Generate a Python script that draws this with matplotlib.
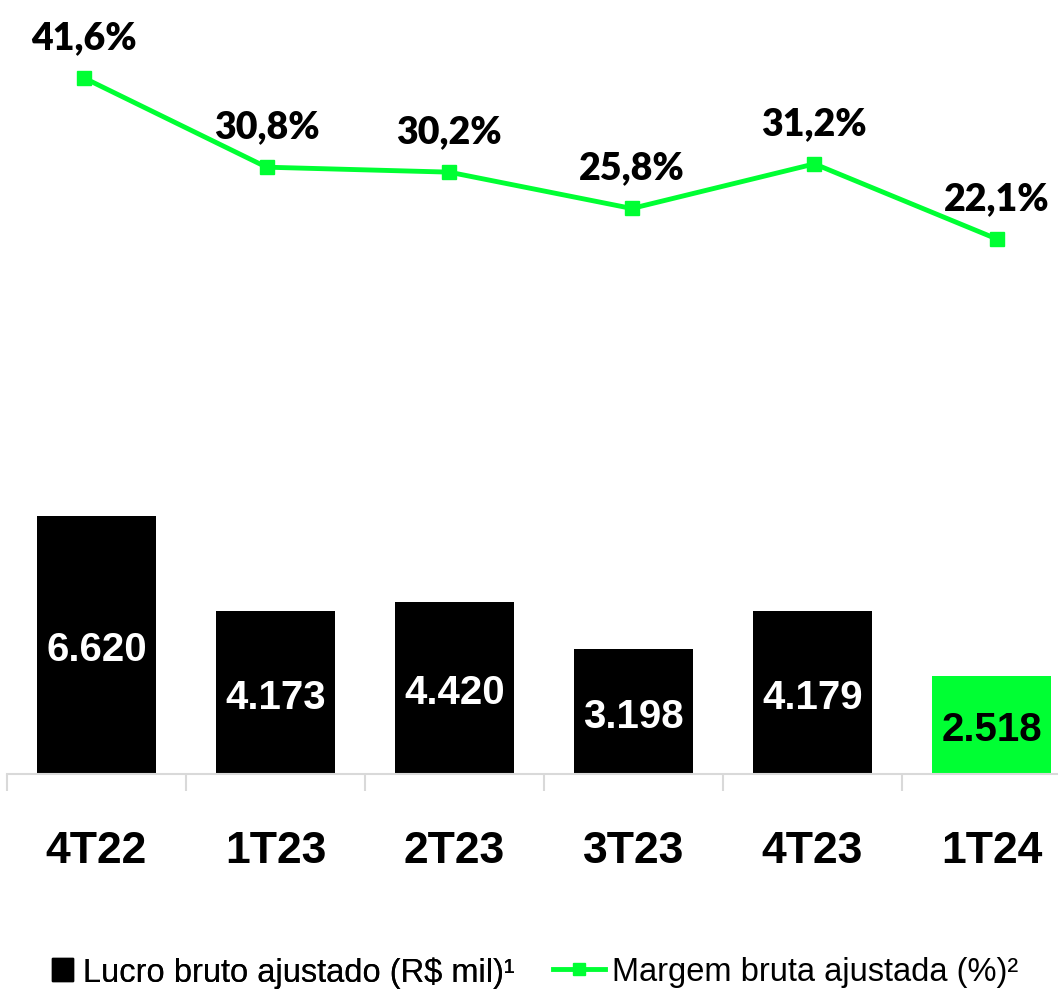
import matplotlib.pyplot as plt
from matplotlib.patches import Patch
from matplotlib.lines import Line2D

categorias = ['4T22', '1T23', '2T23', '3T23', '4T23', '1T24']
lucro = [6620, 4173, 4420, 3198, 4179, 2518]
lucro_txt = ['6.620', '4.173', '4.420', '3.198', '4.179', '2.518']
margem = [41.6, 30.8, 30.2, 25.8, 31.2, 22.1]
margem_txt = ['41,6%', '30,8%', '30,2%', '25,8%', '31,2%', '22,1%']

W, H = 1058, 995
verde = '#00FF33'
cores = ['black'] * 5 + [verde]
cor_txt = ['white'] * 5 + ['black']

fig = plt.figure(figsize=(W / 100, H / 100), dpi=100)

# eixo das barras: de x=7px ate 1081px (passa da borda), base em y=775px
pos = [7 / W, (H - 775) / H, 1074 / W, 775 / H]
ax = fig.add_axes(pos)
x = list(range(len(categorias)))
ax.bar(x, lucro, width=0.665, color=cores)
ax.set_xlim(-0.5, 5.5)
ax.set_ylim(0, 775 / 0.03897)
for i, v in enumerate(lucro):
    ax.annotate(lucro_txt[i], (i, v / 2), xytext=(0, -3), textcoords='offset points',
                ha='center', va='center', color=cor_txt[i],
                fontsize=29, fontweight='bold', family='Liberation Sans')

for s in ['top', 'right', 'left']:
    ax.spines[s].set_visible(False)
ax.spines['bottom'].set_color('#d9d9d9')
ax.spines['bottom'].set_linewidth(1.5)
ax.set_yticks([])
ax.set_xticks(x)
ax.set_xticklabels(categorias, fontsize=32, fontweight='bold', family='Liberation Sans')
ax.tick_params(axis='x', which='major', length=0, pad=40)
ax.set_xticks([i - 0.5 for i in range(len(categorias) + 1)], minor=True)
ax.tick_params(axis='x', which='minor', length=12, width=1.5, color='#d9d9d9')

# eixo da linha (margem)
ax2 = fig.add_axes(pos)
ax2.set_xlim(-0.4217, 5.46)
ax2.set_ylim(-42.66, 51.16)
ax2.axis('off')
ax2.plot(x, margem, color=verde, lw=3.5, marker='s', markersize=10)
for i, v in enumerate(margem):
    ax2.annotate(margem_txt[i], (i, v), xytext=(0, 29.5), textcoords='offset points',
                 ha='center', va='center', fontsize=27, fontweight='heavy',
                 family='Lato')

# legenda
fonte_leg = {'family': 'Liberation Sans', 'size': 23.5}
leg1 = fig.legend([Patch(color='black')], ['Lucro bruto ajustado (R$ mil)¹'],
                  loc='center left', bbox_to_anchor=(52 / W, 22 / H), frameon=False,
                  borderpad=0, borderaxespad=0, handlelength=0.64, handleheight=0.7,
                  handletextpad=0.31, prop=fonte_leg)
leg2 = fig.legend([Line2D([], [], color=verde, lw=3.5, marker='s', markersize=8)],
                  ['Margem bruta ajustada (%)²'],
                  loc='center left', bbox_to_anchor=(553 / W, 22 / H), frameon=False,
                  borderpad=0, borderaxespad=0, handlelength=1.6, handletextpad=0.21,
                  prop=fonte_leg)
fig.add_artist(leg1)

fig.savefig('out.png', dpi=100)
